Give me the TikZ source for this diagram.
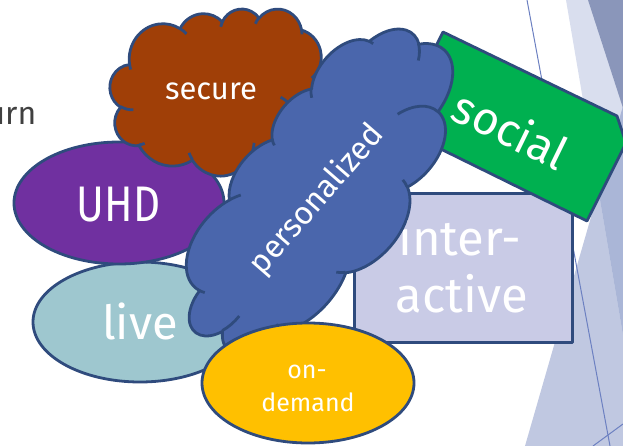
\documentclass[tikz,border=0pt]{standalone}
\usepackage{fontspec}
\setmainfont{Fira Sans}
\usetikzlibrary{shapes.geometric}

\definecolor{edgeblue}{HTML}{2F4B7D}
\definecolor{securefill}{HTML}{A03F07}
\definecolor{persfill}{HTML}{4A66AC}
\definecolor{socialfill}{HTML}{00B050}
\definecolor{uhdfill}{HTML}{7030A0}
\definecolor{livefill}{HTML}{9EC7CF}
\definecolor{interfill}{HTML}{C9CBE6}
\definecolor{demandfill}{HTML}{FFC000}
\definecolor{captiongray}{HTML}{404040}
\definecolor{facetA}{HTML}{C0C8E1}
\definecolor{facetB}{HTML}{D9DEEE}
\definecolor{facetC}{HTML}{AAB6D7}
\definecolor{facetD}{HTML}{8A96BA}
\definecolor{facetline}{HTML}{6C80C1}

\tikzset{
  declare function={pangle(\a,\k)=\a+atan((\k-1)*sin(\a)*cos(\a)/(cos(\a)^2+\k*sin(\a)^2));},
  shapeedge/.style={draw=edgeblue, line width=2.8pt, line join=round},
  lettering/.style={text=white, inner sep=0pt, outer sep=0pt},
}

% elliptical arc given by its radii, geometric start angle and sweep
\newcommand\cloudarc[4]{arc[x radius=#1, y radius=#2, start angle={pangle(#3,#1/#2)}, end angle={pangle(#3+#4,#1/#2)}]}

% cloud outline in a 432 x 432 box, y pointing down
\newcommand\cloudbody{(39.00,143.70)
  \cloudarc{67.53}{91.90}{-190.487}{123.781}
  \cloudarc{53.33}{72.67}{-144.102}{89.945}
  \cloudarc{43.65}{59.45}{-145.808}{99.723}
  \cloudarc{48.57}{65.95}{-130.986}{117.242}
  \cloudarc{53.33}{72.73}{-78.709}{109.027}
  \cloudarc{67.75}{92.20}{-46.267}{130.269}
  \cloudarc{57.85}{78.67}{0.625}{114.033}
  \cloudarc{67.52}{92.15}{22.452}{115.173}
  \cloudarc{77.20}{105.43}{66.243}{75.711}
  \cloudarc{43.60}{59.18}{-274.942}{146.736}
  \cloudarc{43.45}{59.45}{-246.829}{152.519}
  -- cycle}

% the short inner creases between the puffs
\newcommand\cloudcreases{%
  (46.93,261.77) \cloudarc{43.45}{59.45}{86.742}{26.430}
  (69.28,348.99) \cloudarc{43.60}{59.18}{73.610}{11.447}
  (164.78,390.90) \cloudarc{67.52}{92.15}{137.624}{14.081}
  (288.27,347.51) \cloudarc{67.52}{92.15}{6.453}{15.998}
  (341.29,229.54) \cloudarc{57.85}{78.67}{-70.292}{70.917}
  (417.98,153.54) \cloudarc{53.33}{72.73}{30.318}{27.752}
  (383.24,54.26) \cloudarc{48.57}{65.95}{-13.744}{14.859}
  (290.78,39.52) \cloudarc{48.57}{65.95}{-149.181}{18.195}
  (221.41,47.20) \cloudarc{43.65}{59.45}{-163.494}{17.686}
  (140.00,51.92) \cloudarc{67.53}{91.90}{-66.707}{12.319}
  (41.27,157.89) \cloudarc{67.53}{91.90}{157.654}{11.858}}

% centre x, centre y, rotation, width, height, fill colour
\newcommand\drawcloud[6]{%
  \begin{scope}[shift={(#1,#2)}, rotate=#3, x={(#4pt/432,0pt)}, y={(0pt,-#5pt/432)}, shift={(-216,-216)}]
    \path[shapeedge, fill=#6] \cloudbody;
    \path[shapeedge] \cloudcreases;
  \end{scope}}

\begin{document}
\begin{tikzpicture}[x=1pt, y=-1pt]
  \useasboundingbox (0,0) rectangle (623,446);
  \clip (0,0) rectangle (623,446);

  % facets along the right edge
  \fill[facetA] (525,446) -- (623,106) -- (623,446) -- cycle;
  \fill[facetB] (566,0) -- (623,0) -- (623,335) -- cycle;
  \fill[facetC] (623,106) -- (598.5,191) -- (623,335) -- cycle;
  \fill[facetD] (588,0) -- (623,0) -- (623,108) -- cycle;
  \draw[facetline, line width=1pt] (527,0) -- (610,446);
  \draw[facetline, line width=1pt] (593,446) -- (623,424);

  % cut-off caption on the left
  \node[anchor=base east, text=captiongray, inner sep=0pt, font=\fontsize{32}{38}\selectfont] (caption) at (36.5,125) {urn};

  % live
  \node[ellipse, shapeedge, fill=livefill, minimum width=214pt, minimum height=120pt, inner sep=0pt] (live) at (140,322) {};
  \node[lettering, anchor=base, font=\fontsize{47}{56}\selectfont] (livetext) at (140,339) {live};

  % UHD
  \node[ellipse, shapeedge, fill=uhdfill, minimum width=210pt, minimum height=122pt, inner sep=0pt] (uhd) at (119,203) {};
  \node[lettering, anchor=base, font=\fontsize{50}{60}\selectfont] (uhdtext) at (118.5,222) {\scalebox{0.84}[1]{UHD}};

  % secure
  \drawcloud{218}{92}{0}{216}{167}{securefill}
  \node[lettering, anchor=base, font=\fontsize{31}{37}\selectfont] (securetext) at (211,100) {secure};

  % interactive
  \node[shapeedge, fill=interfill, minimum width=218pt, minimum height=149pt, inner sep=0pt, anchor=north west] (inter) at (353,192) {};
  \node[lettering, anchor=base, font=\fontsize{49}{58}\selectfont] (intertext) at (460,255) {inter-};
  \node[lettering, anchor=base, font=\fontsize{49}{58}\selectfont] (activetext) at (462,312) {active};

  % social
  \coordinate (s1) at (443,32);
  \coordinate (s2) at (617,116);
  \coordinate (s3) at (626,143);
  \coordinate (s4) at (587,221);
  \coordinate (s5) at (396,127);
  \path[shapeedge, fill=socialfill] (s1) -- (s2) -- (s3) -- (s4) -- (s5) -- cycle;
  \node[lettering, rotate=-26, font=\fontsize{46}{55}\selectfont] (socialtext) at (511,129) {social};

  % personalized
  \drawcloud{322}{193}{49}{376}{172}{persfill}
  \node[lettering, rotate=49, font=\fontsize{32}{38}\selectfont] (perstext) at (317,200) {personalized};

  % on-demand
  \node[ellipse, shapeedge, fill=demandfill, minimum width=212pt, minimum height=120pt, inner sep=0pt] (demand) at (308,383) {};
  \node[lettering, anchor=base, font=\fontsize{25}{30}\selectfont] (ontext) at (307,378) {on-};
  \node[lettering, anchor=base, font=\fontsize{25}{30}\selectfont] (demandtext) at (308,411) {demand};
\end{tikzpicture}
\end{document}
